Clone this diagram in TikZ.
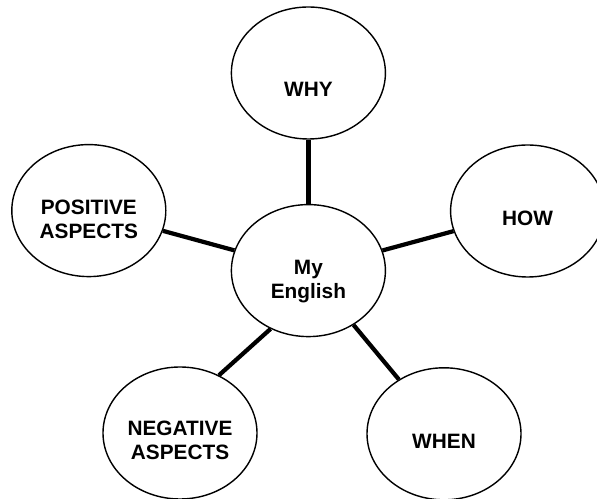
\documentclass[tikz,border=0pt]{standalone}
\usepackage{fontspec}
\setmainfont{Liberation Sans}
\usetikzlibrary{shapes.geometric}

\tikzset{
  bubble/.style={draw, ellipse, line width=1pt, minimum width=3.85cm,
                 minimum height=3.3cm, inner sep=0pt},
  bubbletext/.style={font=\bfseries\fontsize{14.8}{17}\selectfont, align=center},
  spoke/.style={line width=3pt},
}

\begin{document}
\begin{tikzpicture}[x=1cm, y=1cm]
\useasboundingbox (0,0) rectangle (14.925,12.475);
%% Bubbles
\node[bubble] (mine) at (7.71, 5.71) {};
\node[bubbletext] (minetext) at ([yshift=-0.27cm]mine.center) {My\\English};
\node[bubble] (why) at (7.71, 10.65) {};
\node[bubbletext] (whytext) at ([yshift=-0.4cm]why.center) {WHY};
\node[bubble] (positive) at (2.22, 7.21) {};
\node[bubbletext] (positivetext) at ([yshift=-0.21cm]positive.center) {POSITIVE\\ASPECTS};
\node[bubble] (how) at (13.19, 7.20) {};
\node[bubbletext] (howtext) at ([yshift=-0.18cm]how.center) {HOW};
\node[bubble] (negative) at (4.50, 1.65) {};
\node[bubbletext] (negativetext) at ([yshift=-0.19cm]negative.center) {NEGATIVE\\ASPECTS};
\node[bubble] (when) at (11.10, 1.63) {};
\node[bubbletext] (whentext) at ([yshift=-0.18cm]when.center) {WHEN};
%% Spokes
\draw[spoke] (why) -- (mine);
\draw[spoke] (positive) -- (mine);
\draw[spoke] (how) -- (mine);
\draw[spoke] (negative.56) -- (mine.237);
\draw[spoke] (when) -- (mine);
\end{tikzpicture}
\end{document}
